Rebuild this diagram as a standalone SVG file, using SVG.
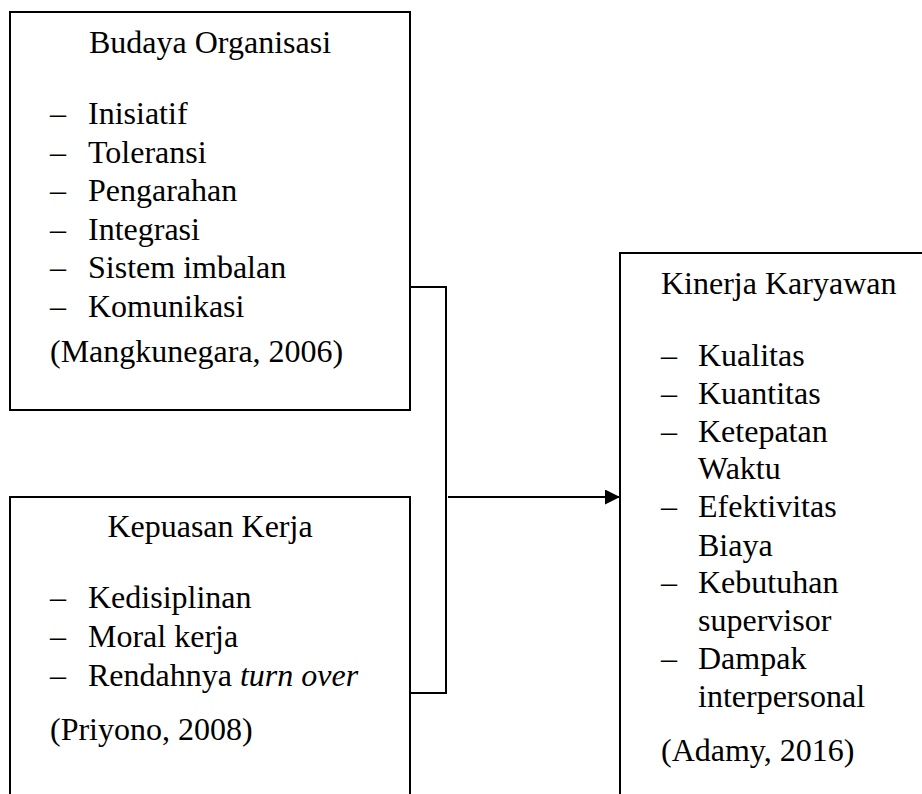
<svg xmlns="http://www.w3.org/2000/svg" width="922" height="794" viewBox="0 0 922 794">
  <defs>
    <style>
      text { font-family: "Liberation Serif", "Times New Roman", serif; font-size: 32px; fill: #000; }
      .box { fill: #fff; stroke: #000; stroke-width: 2; }
      .conn { fill: none; stroke: #000; stroke-width: 2; }
      .mid { text-anchor: middle; }
    </style>
    <marker id="arrow" viewBox="0 0 15 15" refX="15" refY="7.5" markerWidth="15" markerHeight="15" markerUnits="userSpaceOnUse" orient="auto">
      <path d="M0,0 L15,7.5 L0,15 Z" fill="#000"/>
    </marker>
  </defs>
  <rect width="922" height="794" fill="#fff"/>

  <g id="budaya-organisasi">
    <rect class="box" x="10" y="12" width="400" height="398"/>
    <text class="mid" x="210" y="53">Budaya Organisasi</text>
    <text x="50" y="124">–</text><text x="88" y="124">Inisiatif</text>
    <text x="50" y="163">–</text><text x="88" y="163">Toleransi</text>
    <text x="50" y="201">–</text><text x="88" y="201">Pengarahan</text>
    <text x="50" y="240">–</text><text x="88" y="240">Integrasi</text>
    <text x="50" y="278">–</text><text x="88" y="278">Sistem imbalan</text>
    <text x="50" y="317">–</text><text x="88" y="317">Komunikasi</text>
    <text x="50" y="362">(Mangkunegara, 2006)</text>
  </g>

  <g id="kepuasan-kerja">
    <rect class="box" x="10" y="497" width="400" height="320"/>
    <text class="mid" x="210" y="537">Kepuasan Kerja</text>
    <text x="50" y="608">–</text><text x="88" y="608">Kedisiplinan</text>
    <text x="50" y="647">–</text><text x="88" y="647">Moral kerja</text>
    <text x="50" y="686">–</text><text x="88" y="686">Rendahnya <tspan font-style="italic">turn over</tspan></text>
    <text x="50" y="740">(Priyono, 2008)</text>
  </g>

  <g id="kinerja-karyawan">
    <rect class="box" x="620" y="253" width="320" height="570"/>
    <text x="661" y="294">Kinerja Karyawan</text>
    <text x="661" y="366">–</text><text x="698" y="366">Kualitas</text>
    <text x="661" y="404">–</text><text x="698" y="404">Kuantitas</text>
    <text x="661" y="442">–</text><text x="698" y="442">Ketepatan</text>
    <text x="698" y="479">Waktu</text>
    <text x="661" y="517">–</text><text x="698" y="517">Efektivitas</text>
    <text x="698" y="556">Biaya</text>
    <text x="661" y="593">–</text><text x="698" y="593">Kebutuhan</text>
    <text x="698" y="631">supervisor</text>
    <text x="661" y="669">–</text><text x="698" y="669">Dampak</text>
    <text x="698" y="707">interpersonal</text>
    <text x="661" y="761">(Adamy, 2016)</text>
  </g>

  <g id="connectors">
    <path class="conn" d="M410,287 H446 V693 H410"/>
    <path class="conn" d="M448,497 H620" marker-end="url(#arrow)"/>
  </g>
</svg>
